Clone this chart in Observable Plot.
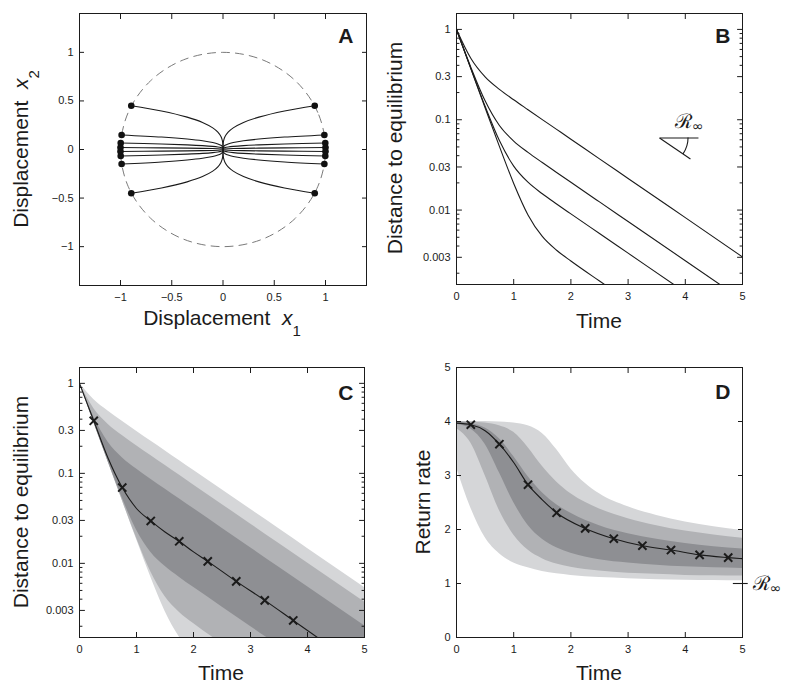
<!DOCTYPE html>
<html><head><meta charset="utf-8">
<script src="https://cdn.jsdelivr.net/npm/d3@7"></script>
<script src="https://cdn.jsdelivr.net/npm/@observablehq/plot@0.6"></script>
<style>
body{margin:0;background:#fff;}
#fig{position:relative;width:800px;height:694px;font-family:"Liberation Sans",Arial,Helvetica,sans-serif;}
#fig svg{position:absolute;overflow:visible;}
</style></head><body><div id="fig"></div>
<script>
// ---------- Panel A data ----------
const axTicksA = [-1, -0.5, 0, 0.5, 1];
const circleX = [1, 0.924, 0.707, 0.383, 0, -0.383, -0.707, -0.924, -1, -0.924, -0.707, -0.383, 0, 0.383, 0.707, 0.924];
const circleY = [0, 0.383, 0.707, 0.924, 1, 0.924, 0.707, 0.383, 0, -0.383, -0.707, -0.924, -1, -0.924, -0.707, -0.383];
const trajS = [0.45, 0.15, 0.067, 0.02];
const trajStartX1 = [0.895, 0.989, 0.998, 1.0];
const trajX1 = [0.6, 0.35, 0.2, 0.1, 0.05, 0.02, 0.008, 0.002, 0];
const trajX2 = [
  [0.396, 0.333, 0.279, 0.223, 0.179, 0.133, 0.0994, 0.064, 0],
  [0.128, 0.1076, 0.0899, 0.072, 0.0577, 0.043, 0.0321, 0.0206, 0],
  [0.0571, 0.048, 0.0402, 0.0322, 0.0258, 0.0192, 0.0143, 0.0092, 0],
  [0.017, 0.0143, 0.012, 0.0096, 0.0077, 0.0057, 0.0043, 0.0027, 0]
];
// ---------- Panel B data ----------
const timeTicks = [0, 1, 2, 3, 4, 5];
const logTicks = [0.003, 0.01, 0.03, 0.1, 0.3, 1];
const logMinor = [0.002, 0.004, 0.005, 0.006, 0.007, 0.008, 0.009, 0.02, 0.04, 0.05, 0.06, 0.07, 0.08, 0.09, 0.2, 0.4, 0.5, 0.6, 0.7, 0.8, 0.9];
const tB = [0, 0.25, 0.5, 0.75, 1, 1.25, 1.5, 1.75, 2, 2.5, 3, 4, 5];
const dB = [
  [1, 0.480, 0.2985, 0.2172, 0.1663, 0.1291, 0.1004, 0.0782, 0.0609, 0.0369, 0.0224, 0.00824, 0.00303],
  [1, 0.382, 0.1618, 0.0863, 0.0581, 0.0435, 0.03356, 0.02609, 0.0203, 0.01231, 0.00747, 0.00275, 0.00101],
  [1, 0.3707, 0.1410, 0.0589, 0.03068, 0.02034, 0.01515, 0.01168, 0.00907, 0.0055, 0.003336, 0.001227, 0.00045],
  [1, 0.3681, 0.1358, 0.05067, 0.01973, 0.008845, 0.005105, 0.003594, 0.002728, 0.00164, 0.000996, 0.000366, 0.000135]
];
const slopeMarker = [
  {t1: 3.55, d1: 0.0628, t2: 4.23, d2: 0.0628},
  {t1: 3.55, d1: 0.0628, t2: 4.09, d2: 0.0367}
];
const slopeLabel = {t: 3.83, d: 0.079};
// ---------- Panel C data ----------
const tC = [0, 0.25, 0.5, 0.75, 1, 1.25, 1.5, 1.75, 2, 2.5, 3, 3.5, 4, 4.5, 5];
const cLightHi = [1, 0.661, 0.492, 0.379, 0.2945, 0.229, 0.1785, 0.139, 0.1082, 0.0657, 0.0398, 0.0242, 0.01466, 0.00889, 0.00539];
const cMedHi   = [1, 0.527, 0.352, 0.263, 0.2029, 0.1577, 0.1227, 0.0956, 0.0744, 0.0452, 0.02738, 0.0166, 0.01008, 0.00611, 0.00371];
const cDarkHi  = [1, 0.4216, 0.2231, 0.1495, 0.1117, 0.0862, 0.0670, 0.0521, 0.0406, 0.0246, 0.01494, 0.00906, 0.0055, 0.00333, 0.00202];
const cDarkLo  = [1, 0.369, 0.1374, 0.0532, 0.02348, 0.01329, 0.00926, 0.00701, 0.00541, 0.00328, 0.00199, 0.00121, 0.00073, 0.00044, 0.00027];
const cMedLo   = [1, 0.368, 0.1357, 0.0503, 0.01918, 0.00808, 0.00427, 0.00286, 0.00214, 0.00128, 0.00078, 0.00047, 0.00029, 0.00017, 0.0001];
const cLightLo = [1, 0.3679, 0.1354, 0.0499, 0.01848, 0.00703, 0.00293, 0.00152, 0.0010, 0.000575, 0.00035, 0.00021, 0.00013, 0.00008, 0.00005];
const cMedianT = [0, 0.25, 0.5, 0.75, 1, 1.25, 1.5, 1.75, 2, 2.25, 2.75, 3.25, 3.75, 4.25];
const cMedianD = [1, 0.384, 0.148, 0.0695, 0.0407, 0.0296, 0.0223, 0.01757, 0.0134, 0.01052, 0.0063, 0.00388, 0.00232, 0.00139];
const cMarkT = [0.25, 0.75, 1.25, 1.75, 2.25, 2.75, 3.25, 3.75];
const cMarkD = [0.384, 0.0695, 0.0296, 0.01757, 0.01052, 0.0063, 0.00388, 0.00232];
// ---------- Panel D data ----------
const rateTicks = [0, 1, 2, 3, 4, 5];
const tD = [0, 0.25, 0.5, 0.75, 1, 1.25, 1.5, 1.75, 2, 2.5, 3, 3.5, 4, 4.5, 5];
const dLightHi = [4.0, 4.0, 4.0, 3.99, 3.97, 3.92, 3.78, 3.48, 3.12, 2.66, 2.42, 2.26, 2.14, 2.05, 1.98];
const dMedHi   = [4.0, 3.99, 3.97, 3.92, 3.8, 3.52, 3.17, 2.88, 2.66, 2.38, 2.2, 2.07, 1.97, 1.9, 1.84];
const dDarkHi  = [3.99, 3.96, 3.88, 3.68, 3.35, 2.98, 2.68, 2.46, 2.3, 2.07, 1.92, 1.82, 1.74, 1.68, 1.64];
const dDarkLo  = [3.95, 3.86, 3.58, 3.05, 2.5, 2.08, 1.82, 1.66, 1.56, 1.44, 1.38, 1.34, 1.31, 1.29, 1.28];
const dMedLo   = [3.87, 3.6, 3.0, 2.35, 1.9, 1.62, 1.46, 1.36, 1.3, 1.23, 1.19, 1.17, 1.15, 1.145, 1.14];
const dLightLo = [3.15, 2.4, 1.85, 1.55, 1.38, 1.29, 1.22, 1.18, 1.15, 1.11, 1.09, 1.07, 1.06, 1.055, 1.05];
const dMedianT = [0, 0.25, 0.5, 0.75, 1, 1.25, 1.5, 1.75, 2.25, 2.75, 3.25, 3.75, 4.25, 4.75, 5];
const dMedianR = [3.97, 3.94, 3.83, 3.58, 3.24, 2.83, 2.55, 2.31, 2.02, 1.83, 1.70, 1.62, 1.53, 1.48, 1.46];
const dMarkT = [0.25, 0.75, 1.25, 1.75, 2.25, 2.75, 3.25, 3.75, 4.25, 4.75];
const dMarkR = [3.94, 3.58, 2.83, 2.31, 2.02, 1.83, 1.70, 1.62, 1.53, 1.48];
const rInfD = [{y: 1, x1: 4.84, x2: 5.1}];
const rInfLabelD = {t: 5.19, r: 1};

// ---------- helpers ----------
const fig = document.getElementById("fig");
const FONT = '"Liberation Sans", Arial, Helvetica, sans-serif';
const INK = "#1b1b1b";
const GREY = {light: "#d5d6d8", med: "#b1b2b5", dark: "#8e8f93"};
const base = {width: 400, height: 347,
  style: {background: "transparent", overflow: "visible", fontFamily: FONT, fontSize: "11px", color: INK}};
const fmt = d => d < 0 ? "\u2212" + String(-d) : String(d);
const tickShape = {draw(ctx, l) { ctx.moveTo(0, 0); ctx.lineTo(0, -l); }};

function xAxes(xt) {
  return [
    Plot.axisX(xt, {anchor: "bottom", tickSize: 0, tickPadding: 8, tickFormat: fmt, fill: INK, label: null}),
    Plot.axisX(xt, {anchor: "bottom", tickSize: -5, fill: "none", stroke: INK, label: null}),
    Plot.axisX(xt, {anchor: "top", tickSize: -5, fill: "none", stroke: INK, label: null})
  ];
}
function yLinAxes(yt) {
  return [
    Plot.axisY(yt, {anchor: "left", tickSize: 0, tickPadding: 6, tickFormat: fmt, fill: INK, label: null}),
    Plot.axisY(yt, {anchor: "left", tickSize: -5, fill: "none", stroke: INK, label: null}),
    Plot.axisY(yt, {anchor: "right", tickSize: -5, fill: "none", stroke: INK, label: null})
  ];
}
function yLogAxes(yt, minor) {
  const side = (data, len) => [
    Plot.vector(data, {y: d => d, frameAnchor: "left", length: len, rotate: 90, anchor: "start", shape: tickShape, stroke: INK, strokeWidth: 1}),
    Plot.vector(data, {y: d => d, frameAnchor: "right", length: len, rotate: -90, anchor: "start", shape: tickShape, stroke: INK, strokeWidth: 1})
  ];
  return [
    Plot.text(yt, {y: d => d, frameAnchor: "left", text: fmt, textAnchor: "end", dx: -6, fill: INK, fontSize: 11}),
    ...side(yt, 5), ...side(minor, 2.5)
  ];
}
function letter(l, dx, dy) {
  return Plot.text([l], {text: d => d, frameAnchor: "top-right", textAnchor: "end", lineAnchor: "top",
    dx, dy, fontSize: 21, fontWeight: "bold", fill: INK});
}
function addText(svg, {x, y, rotate = 0, anchor = "middle", size = 21, parts}) {
  const t = d3.select(svg).append("text")
    .attr("transform", `translate(${x},${y}) rotate(${rotate})`)
    .attr("text-anchor", anchor).style("font-size", size + "px").attr("fill", INK);
  for (const p of parts) {
    const s = t.append("tspan").text(p.text);
    if (p.italic) s.style("font-style", "italic");
    if (p.size) s.style("font-size", p.size + "px");
    if (p.dy) s.attr("dy", p.dy);
    if (p.family) s.style("font-family", p.family);
  }
  return t;
}
function place(svg, left, top) {
  svg.style.position = "absolute"; svg.style.left = left + "px"; svg.style.top = top + "px";
  fig.appendChild(svg);
}
const rInfParts = [{text: "\u211B", size: 20, family: "DejaVu Serif, serif"},
                   {text: "\u221E", size: 14, dy: 3, family: "DejaVu Sans, sans-serif"}];
const frame = () => Plot.frame({stroke: INK, strokeWidth: 1});

// ---------- Panel A ----------
const circleTable = circleX.map((x, i) => ({x, y: circleY[i]}));
const trajTable = [], dotTable = [];
for (const sx of [1, -1]) for (const sy of [1, -1]) trajS.forEach((s, k) => {
  const id = `${sx}_${sy}_${k}`;
  trajTable.push({id, x: sx * trajStartX1[k], y: sy * s});
  trajX1.forEach((x, j) => trajTable.push({id, x: sx * x, y: sy * trajX2[k][j]}));
  dotTable.push({x: sx * trajStartX1[k], y: sy * s});
});
const pA = Plot.plot({...base, marginLeft: 79, marginRight: 34, marginTop: 13, marginBottom: 62,
  x: {domain: [-1.4, 1.4], label: null}, y: {domain: [-1.4, 1.4], label: null},
  marks: [
    Plot.line(circleTable, {x: "x", y: "y", curve: "catmull-rom-closed", stroke: "#7a7a7a", strokeWidth: 1, strokeDasharray: "8,6"}),
    Plot.line(trajTable, {x: "x", y: "y", z: "id", curve: "catmull-rom", stroke: "#1a1a1a", strokeWidth: 1.1}),
    Plot.dot(dotTable, {x: "x", y: "y", r: 3.3, fill: "#111", stroke: "none"}),
    ...xAxes(axTicksA), ...yLinAxes(axTicksA), frame(),
    letter("A", -13, 15)
  ]});
addText(pA, {x: 222, y: 325, parts: [{text: "Displacement\u00a0\u00a0"}, {text: "x", italic: true}, {text: "1", size: 15, dy: 11}]});
addText(pA, {x: 28, y: 149, rotate: -90, parts: [{text: "Displacement\u00a0\u00a0"}, {text: "x", italic: true}, {text: "2", size: 15, dy: 11}]});
place(pA, 0, 0);

// ---------- Panel B ----------
const tableB = [];
dB.forEach((arr, k) => arr.forEach((d, j) => tableB.push({k, t: tB[j], d})));
const pB = Plot.plot({...base, marginLeft: 56, marginRight: 58, marginTop: 13, marginBottom: 63,
  x: {domain: [0, 5], label: null}, y: {type: "log", domain: [0.0015, 1.5], label: null, axis: null},
  marks: [
    Plot.line(tableB, {x: "t", y: "d", z: "k", curve: "monotone-x", stroke: INK, strokeWidth: 1.1, clip: true}),
    Plot.link(slopeMarker, {x1: "t1", y1: "d1", x2: "t2", y2: "d2", stroke: INK, strokeWidth: 1.1}),
    ...xAxes(timeTicks), ...yLogAxes(logTicks, logMinor), frame(),
    letter("B", -12, 15)
  ]});
{
  const sx = pB.scale("x"), sy = pB.scale("y");
  const cx = sx.apply(slopeMarker[1].t1), cy = sy.apply(slopeMarker[1].d1);
  const ex = sx.apply(slopeMarker[1].t2), ey = sy.apply(slopeMarker[1].d2);
  const a = Math.atan2(ey - cy, ex - cx), R = 29;
  d3.select(pB).append("path")
    .attr("d", `M${cx + R},${cy}A${R},${R} 0 0 1 ${cx + R * Math.cos(a)},${cy + R * Math.sin(a)}`)
    .attr("fill", "none").attr("stroke", INK).attr("stroke-width", 1.1);
  addText(pB, {x: sx.apply(slopeLabel.t), y: sy.apply(slopeLabel.d), anchor: "start", parts: rInfParts});
}
addText(pB, {x: 199, y: 328, parts: [{text: "Time"}]});
addText(pB, {x: 2, y: 148, rotate: -90, parts: [{text: "Distance to equilibrium"}]});
place(pB, 400, 0);

// ---------- Panel C ----------
const tableC = tC.map((t, i) => ({t, lh: cLightHi[i], mh: cMedHi[i], dh: cDarkHi[i], dl: cDarkLo[i], ml: cMedLo[i], ll: cLightLo[i]}));
const medC = cMedianT.map((t, i) => ({t, d: cMedianD[i]}));
const markC = cMarkT.map((t, i) => ({t, d: cMarkD[i]}));
const pC = Plot.plot({...base, marginLeft: 79, marginRight: 36, marginTop: 20, marginBottom: 57,
  x: {domain: [0, 5], label: null}, y: {type: "log", domain: [0.0015, 1.5], label: null, axis: null},
  marks: [
    Plot.areaY(tableC, {x: "t", y1: "ll", y2: "lh", fill: GREY.light, curve: "monotone-x", clip: true}),
    Plot.areaY(tableC, {x: "t", y1: "ml", y2: "mh", fill: GREY.med, curve: "monotone-x", clip: true}),
    Plot.areaY(tableC, {x: "t", y1: "dl", y2: "dh", fill: GREY.dark, curve: "monotone-x", clip: true}),
    Plot.line(medC, {x: "t", y: "d", curve: "monotone-x", stroke: INK, strokeWidth: 1.1, clip: true}),
    Plot.dot(markC, {x: "t", y: "d", symbol: "times", r: 3.8, stroke: INK, strokeWidth: 2, clip: true}),
    ...xAxes(timeTicks), ...yLogAxes(logTicks, logMinor), frame(),
    letter("C", -11, 18)
  ]});
addText(pC, {x: 221, y: 333, parts: [{text: "Time"}]});
addText(pC, {x: 28, y: 155, rotate: -90, parts: [{text: "Distance to equilibrium"}]});
place(pC, 0, 347);

// ---------- Panel D ----------
const tableD = tD.map((t, i) => ({t, lh: dLightHi[i], mh: dMedHi[i], dh: dDarkHi[i], dl: dDarkLo[i], ml: dMedLo[i], ll: dLightLo[i]}));
const medD = dMedianT.map((t, i) => ({t, r: dMedianR[i]}));
const markD = dMarkT.map((t, i) => ({t, r: dMarkR[i]}));
const pD = Plot.plot({...base, marginLeft: 56, marginRight: 58, marginTop: 20, marginBottom: 57,
  x: {domain: [0, 5], label: null}, y: {domain: [0, 5], label: null},
  marks: [
    Plot.areaY(tableD, {x: "t", y1: "ll", y2: "lh", fill: GREY.light, curve: "monotone-x"}),
    Plot.areaY(tableD, {x: "t", y1: "ml", y2: "mh", fill: GREY.med, curve: "monotone-x"}),
    Plot.areaY(tableD, {x: "t", y1: "dl", y2: "dh", fill: GREY.dark, curve: "monotone-x"}),
    Plot.line(medD, {x: "t", y: "r", curve: "monotone-x", stroke: INK, strokeWidth: 1.1}),
    Plot.dot(markD, {x: "t", y: "r", symbol: "times", r: 3.8, stroke: INK, strokeWidth: 2}),
    Plot.ruleY(rInfD, {y: "y", x1: "x1", x2: "x2", stroke: INK, strokeWidth: 1.1}),
    ...xAxes(timeTicks), ...yLinAxes(rateTicks), frame(),
    letter("D", -12, 17)
  ]});
{
  const sx = pD.scale("x"), sy = pD.scale("y");
  addText(pD, {x: sx.apply(rInfLabelD.t), y: sy.apply(rInfLabelD.r) + 7, anchor: "start", parts: rInfParts});
}
addText(pD, {x: 199, y: 333, parts: [{text: "Time"}]});
addText(pD, {x: 30, y: 155, rotate: -90, parts: [{text: "Return rate"}]});
place(pD, 400, 347);
</script></body></html>
